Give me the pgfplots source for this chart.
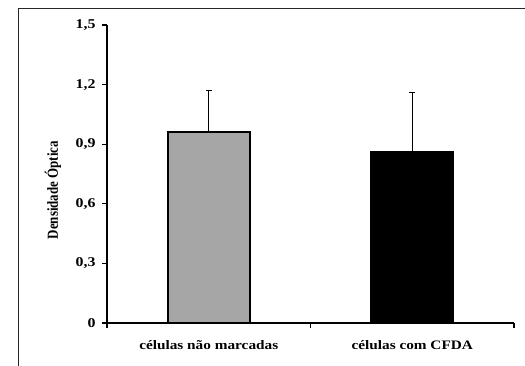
\documentclass[border=0pt]{standalone}
\usepackage{pgfplots}
\pgfplotsset{compat=1.18}
\usepackage{fontspec}
\setmainfont{Liberation Serif}
\definecolor{bargray}{HTML}{A6A6A6}
\newcommand{\lab}[1]{\scalebox{1.18}[1]{\bfseries #1}}
\begin{document}
\begin{tikzpicture}
\useasboundingbox (0,0) rectangle (525bp,366bp);
\fill[white] (0,0) rectangle (525bp,366bp);
\draw[line width=1bp,black!85] (18bp,-1bp) -- (18bp,357bp) -- (526bp,357bp);
\begin{axis}[
  at={(107bp,43bp)}, anchor=south west,
  scale only axis, width=407bp, height=298bp,
  xmin=-0.5, xmax=1.5, ymin=0, ymax=1.5,
  axis x line=bottom, axis y line=left,
  axis line style={line width=1.6bp, -},
  every tick/.style={black, line width=1.2bp},
  tick align=outside,
  major tick length=5bp,
  xtick={-0.5,0.5,1.5}, xticklabels={},
  extra x ticks={0,1},
  extra x tick labels={\lab{células não marcadas},\lab{células com CFDA}},
  extra x tick style={major tick length=0pt, xticklabel style={yshift=-14bp}},
  ytick={0,0.3,0.6,0.9,1.2,1.5},
  yticklabels={{\lab{0}},{\lab{0,3}},{\lab{0,6}},{\lab{0,9}},{\lab{1,2}},{\lab{1,5}}},
  yticklabel style={font=\fontsize{13.5}{15}\selectfont, xshift=-3bp},
  xticklabel style={font=\fontsize{13}{15}\selectfont},
  ylabel={\scalebox{1}[1.18]{\bfseries Densidade Óptica}},
  ylabel style={font=\fontsize{13}{15}\selectfont, at={(axis description cs:-0.133,0.446)}, anchor=center},
  clip=false,
]
\addplot[ybar, bar width=82bp, bar shift=0pt, fill=bargray, draw=black, line width=1.6bp,
  error bars/.cd, y dir=plus, y explicit,
  error bar style={line width=1.2bp, black},
  error mark options={rotate=90, mark size=3bp, line width=1.4bp}]
  coordinates {(0,0.96) +- (0,0.21)};
\addplot[ybar, bar width=82bp, bar shift=0pt, fill=black, draw=black, line width=1.6bp,
  error bars/.cd, y dir=plus, y explicit,
  error bar style={line width=1.2bp, black},
  error mark options={rotate=90, mark size=3bp, line width=1.4bp}]
  coordinates {(1,0.86) +- (0,0.30)};
\end{axis}
\end{tikzpicture}
\end{document}
